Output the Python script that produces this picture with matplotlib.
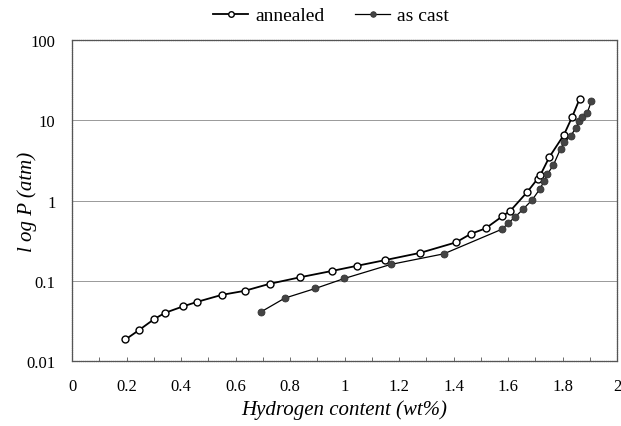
import numpy as np
import matplotlib
matplotlib.use("Agg")
import matplotlib.pyplot as plt
from matplotlib.ticker import FixedLocator, MultipleLocator

# annealed sample (open circles)
annealed_h = [0.196, 0.244, 0.301, 0.341, 0.407, 0.459, 0.550, 0.633, 0.725, 0.838,
              0.955, 1.046, 1.148, 1.277, 1.408, 1.463, 1.517, 1.578, 1.608, 1.670,
              1.708, 1.718, 1.751, 1.804, 1.834, 1.862]
annealed_p = [0.0186, 0.0241, 0.0333, 0.0399, 0.048, 0.0547, 0.0669, 0.075, 0.0918, 0.111,
              0.133, 0.154, 0.181, 0.223, 0.301, 0.385, 0.450, 0.635, 0.746, 1.28,
              1.87, 2.08, 3.49, 6.56, 10.9, 18.5]

# as cast sample (filled circles)
cast_h = [0.693, 0.780, 0.893, 0.999, 1.169, 1.364, 1.578, 1.600, 1.624, 1.655,
          1.688, 1.716, 1.732, 1.744, 1.766, 1.792, 1.806, 1.830, 1.847, 1.861,
          1.870, 1.890, 1.905]
cast_p = [0.041, 0.0608, 0.0804, 0.107, 0.160, 0.217, 0.441, 0.524, 0.618, 0.783,
          1.02, 1.39, 1.75, 2.14, 2.78, 4.43, 5.32, 6.43, 7.94, 9.72,
          10.9, 12.4, 17.3]

x_ticks = [0, 0.2, 0.4, 0.6, 0.8, 1, 1.2, 1.4, 1.6, 1.8, 2]
x_labels = ["0", "0.2", "0.4", "0.6", "0.8", "1", "1.2", "1.4", "1.6", "1.8", "2"]
y_ticks = [0.01, 0.1, 1, 10, 100]
y_labels = ["0.01", "0.1", "1", "10", "100"]

plt.rcParams['font.family'] = ['Liberation Serif', 'DejaVu Serif']

fig = plt.figure(figsize=(6.21, 4.27), dpi=100)
ax = fig.add_axes([0.116, 0.152, 0.878, 0.752])

ax.plot(annealed_h, annealed_p, '-o', color='black', lw=1.3, ms=5,
        mfc='white', mec='black', mew=1.0, label='annealed')
ax.plot(cast_h, cast_p, '-o', color='black', lw=0.9, ms=5,
        mfc='#444444', mec='#333333', mew=0.6, label='as cast')

ax.set_yscale('log')
ax.set_xlim(0, 2)
ax.set_ylim(0.01, 100)
ax.yaxis.set_major_locator(FixedLocator(y_ticks))
ax.yaxis.set_minor_locator(FixedLocator([]))
ax.set_yticklabels(y_labels)
ax.set_xticks(x_ticks)
ax.set_xticklabels(x_labels)
ax.xaxis.set_minor_locator(MultipleLocator(0.1))

ax.tick_params(axis='x', which='both', direction='in', length=3, width=0.6,
               color='#555555', pad=12, labelsize=12)
ax.tick_params(axis='y', which='both', length=0, pad=12, labelsize=12)

ax.grid(axis='y', which='major', color='#999999', lw=0.7)
for s in ax.spines.values():
    s.set_color('#555555')
    s.set_linewidth(0.9)
    s.set_linestyle((0, (1, 0.5)))

ax.set_xlabel('Hydrogen content (wt%)', fontstyle='italic', fontsize=15, labelpad=4)
ax.set_ylabel('l og P (atm)', fontstyle='italic', fontsize=15)
ax.yaxis.set_label_coords(-0.065, 0.5)

leg = ax.legend(loc='lower center', bbox_to_anchor=(0.475, 1.0), ncol=2, frameon=False,
                fontsize=14, handlelength=1.8, columnspacing=1.6, handletextpad=0.35,
                borderaxespad=0.4, markerscale=0.8)

fig.savefig('out.png', dpi=100)
